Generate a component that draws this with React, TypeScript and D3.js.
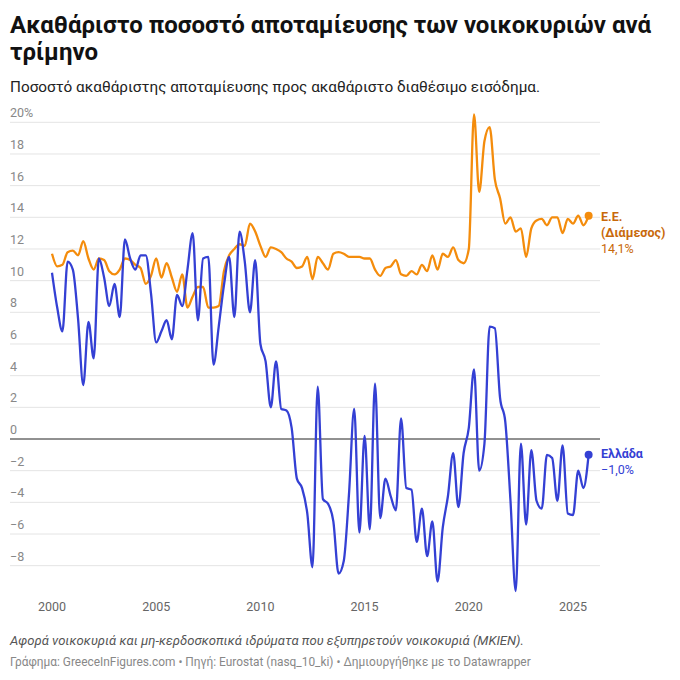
import React from "react";
import * as d3 from "d3";

const startYear = 2000;

// Quarterly values, 2000Q1 .. 2025Q4
const greece: number[] = [
  10.5, 8.3, 6.8, 11.2,
  10.7, 7.6, 3.4, 7.4,
  5.1, 11.4, 10.2, 8.4,
  9.8, 7.7, 12.6, 11.4,
  10.7, 11.6, 11.6, 9.2,
  6.1, 6.8, 7.5, 6.3,
  9.1, 8.4, 10.7, 13.0,
  7.5, 11.4, 11.5, 4.7,
  7.1, 9.7, 11.5, 7.7,
  13.1, 11.2, 8.0, 11.3,
  6.0, 4.9, 2.0, 4.9,
  1.9, 1.8, 0.7, -2.5,
  -3.1, -4.7, -8.1, 3.3,
  -3.8, -4.1, -5.2, -8.5,
  -7.7, -3.5, 1.9, -5.9,
  0.2, -5.7, 3.5, -5.0,
  -2.5, -3.6, -4.5, 1.3,
  -3.1, -3.2, -6.5, -4.4,
  -7.4, -5.2, -9.0, -5.6,
  -3.6, -0.9, -4.3, -0.9,
  0.7, 4.4, -2.0, -0.3,
  7.1, 7.0, 2.6, 1.1,
  -3.9, -9.6, -0.3, -5.4,
  -0.7, -3.9, -4.4, -1.0,
  -1.2, -3.9, -0.4, -4.7,
  -4.8, -2.0, -3.1, -1.0,
];

const eu: number[] = [
  11.7, 10.9, 11.0, 11.8,
  11.9, 11.6, 12.5, 11.4,
  10.7, 11.4, 11.3, 10.6,
  10.4, 10.7, 11.4, 11.3,
  11.0, 10.8, 9.8, 10.3,
  11.4, 10.2, 11.1, 10.2,
  9.3, 10.4, 8.3, 9.0,
  9.6, 9.6, 8.3, 8.3,
  8.4, 10.6, 11.6, 12.0,
  12.3, 12.2, 13.6, 13.1,
  12.2, 11.5, 12.1, 12.0,
  11.8, 11.4, 11.2, 10.8,
  10.9, 11.5, 10.1, 11.5,
  11.1, 10.7, 11.7, 11.8,
  11.7, 11.5, 11.5, 11.5,
  11.4, 11.4, 10.7, 10.3,
  10.8, 10.9, 11.3, 10.4,
  10.3, 10.6, 10.4, 11.0,
  10.6, 11.6, 10.7, 11.7,
  11.5, 12.1, 11.3, 11.1,
  12.0, 20.5, 15.6, 18.8,
  19.7, 16.4, 15.2, 13.6,
  14.0, 13.1, 13.3, 11.5,
  13.3, 13.8, 13.9, 13.5,
  14.0, 14.0, 13.0, 13.9,
  13.6, 14.1, 13.5, 14.1,
];

const yTicks: number[] = [-8, -6, -4, -2, 0, 2, 4, 6, 8, 10, 12, 14, 16, 18, 20];
const xTicks: number[] = [2000, 2005, 2010, 2015, 2020, 2025];

const BLUE = "#3440d4";
const ORANGE = "#f48c0c";
const ORANGE_TXT = "#c8690a";
const FONT = "Roboto, 'Noto Sans', sans-serif";

export default function App() {
  const x = d3.scaleLinear().domain([2000, 2025]).range([52, 573]);
  const y = d3.scaleLinear().domain([0, 20]).range([439, 122.3]);
  const t = (i: number) => startYear + i / 4;

  const line = d3
    .line<number>()
    .x((_, i) => x(t(i)))
    .y((d) => y(d))
    .curve(d3.curveMonotoneX);

  const gL = eu.length - 1;
  const grL = greece.length - 1;

  return (
    <svg
      width={680}
      height={680}
      style={{ position: "absolute", left: 0, top: 0, background: "#fff" }}
      fontFamily={FONT}
    >
      <text x={10} y={33} fontSize={24} fontWeight={700} fill="#111">
        Ακαθάριστο ποσοστό αποταμίευσης των νοικοκυριών ανά
      </text>
      <text x={10} y={60} fontSize={24} fontWeight={700} fill="#111">
        τρίμηνο
      </text>
      <text x={10} y={92} fontSize={15.3} fill="#222">
        Ποσοστό ακαθάριστης αποταμίευσης προς ακαθάριστο διαθέσιμο εισόδημα.
      </text>

      {yTicks.map((v) => (
        <g key={v}>
          {v !== 0 && (
            <line x1={10} x2={600} y1={y(v)} y2={y(v)} stroke="#e4e4e4" strokeWidth={1} />
          )}
          <text x={10} y={y(v) - 5} fontSize={12.5} fill="#888">
            {v < 0 ? `\u2212${-v}` : v}
            {v === 20 ? "%" : ""}
          </text>
        </g>
      ))}
      <line x1={10} x2={600} y1={y(0)} y2={y(0)} stroke="#222" strokeWidth={1} />

      {xTicks.map((v) => (
        <text key={v} x={x(v)} y={611} fontSize={12.5} fill="#666" textAnchor="middle">
          {v}
        </text>
      ))}

      <path d={line(eu) ?? ""} fill="none" stroke={ORANGE} strokeWidth={2.3} />
      <path d={line(greece) ?? ""} fill="none" stroke={BLUE} strokeWidth={2.3} />
      <circle cx={x(t(gL))} cy={y(eu[gL])} r={4} fill={ORANGE} />
      <circle cx={x(t(grL))} cy={y(greece[grL])} r={4} fill={BLUE} />

      <text x={601} y={221} fontSize={12.5} fontWeight={700} fill={ORANGE_TXT}>Ε.Ε.</text>
      <text x={601} y={237} fontSize={12.5} fontWeight={700} fill={ORANGE_TXT}>(Διάμεσος)</text>
      <text x={601} y={253} fontSize={12.5} fill={ORANGE_TXT}>14,1%</text>
      <text x={601} y={458} fontSize={12.5} fontWeight={700} fill={BLUE}>Ελλάδα</text>
      <text x={601} y={474} fontSize={12.5} fill={BLUE}>{"\u22121,0%"}</text>

      <text x={10} y={645} fontSize={13.1} fontStyle="italic" fill="#555">
        Αφορά νοικοκυριά και μη-κερδοσκοπικά ιδρύματα που εξυπηρετούν νοικοκυριά (ΜΚΙΕΝ).
      </text>
      <text x={10} y={666} fontSize={11.9} fill="#888">
        Γράφημα: GreeceInFigures.com • Πηγή: Eurostat (nasq_10_ki) • Δημιουργήθηκε με το Datawrapper
      </text>
    </svg>
  );
}
